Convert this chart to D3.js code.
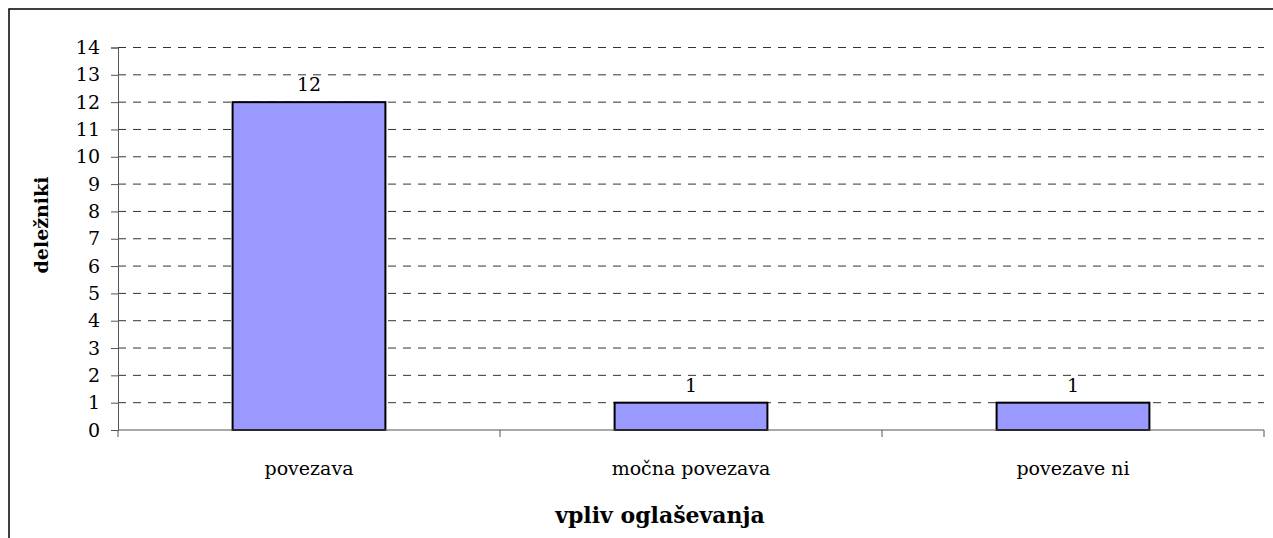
<!DOCTYPE html>
<html>
<head>
<meta charset="utf-8">
<script src="https://cdnjs.cloudflare.com/ajax/libs/d3/7.8.5/d3.min.js"></script>
<style>
  body { margin: 0; background: #fff; }
  text { font-family: "DejaVu Serif", serif; fill: #000; }
</style>
</head>
<body>
<main></main>
<script>
var categories = ["povezava", "močna povezava", "povezave ni"];
var values = [12, 1, 1];
var yTicks = [0, 1, 2, 3, 4, 5, 6, 7, 8, 9, 10, 11, 12, 13, 14];
var xTitle = "vpliv oglaševanja";
var yTitle = "deležniki";

var W = 1273, H = 538;
var margin = { top: 47.5, left: 118, right: 9, bottom: 108 };
var w = W - margin.left - margin.right;
var h = H - margin.top - margin.bottom;

var svg = d3.select("main")
            .append("svg")
            .attr("width", W)
            .attr("height", H);

// chart frame (runs off the right and bottom edge)
svg.append("rect")
   .attr("x", 9).attr("y", 9)
   .attr("width", W + 20).attr("height", H + 20)
   .attr("fill", "none")
   .attr("stroke", "#000")
   .attr("stroke-width", 1.5);

var g = svg.append("g")
           .attr("transform", "translate(" + margin.left + "," + margin.top + ")");

var x = d3.scaleBand()
          .domain(categories)
          .range([0, w])
          .paddingInner(0.6)
          .paddingOuter(0.3);

var y = d3.scaleLinear()
          .domain([0, 14])
          .range([h, 0]);

// gridlines
g.selectAll("line.grid")
 .data(yTicks.filter(function(d) { return d > 0; }))
 .enter()
 .append("line")
 .attr("class", "grid")
 .attr("x1", 0).attr("x2", w)
 .attr("y1", function(d) { return y(d); })
 .attr("y2", function(d) { return y(d); })
 .attr("stroke", "#333")
 .attr("stroke-width", 1)
 .attr("stroke-dasharray", "8,7");

// bars
g.selectAll("rect.bar")
 .data(values)
 .enter()
 .append("rect")
 .attr("class", "bar")
 .attr("x", function(d, i) { return x(categories[i]); })
 .attr("y", function(d) { return y(d); })
 .attr("width", x.bandwidth())
 .attr("height", function(d) { return h - y(d); })
 .attr("fill", "#9999ff")
 .attr("stroke", "#000")
 .attr("stroke-width", 2);

// value labels
g.selectAll("text.val")
 .data(values)
 .enter()
 .append("text")
 .attr("class", "val")
 .attr("x", function(d, i) { return x(categories[i]) + x.bandwidth() / 2; })
 .attr("y", function(d) { return y(d) - 11; })
 .attr("text-anchor", "middle")
 .style("font-size", "19px")
 .text(function(d) { return d; });

// y axis
var yAxis = g.append("g")
             .call(d3.axisLeft(y).tickValues(yTicks).tickSize(7).tickPadding(11));
yAxis.selectAll("text").style("font-size", "19px").attr("fill", "#000");
yAxis.select(".domain").attr("stroke", "#555");
yAxis.selectAll(".tick line").attr("stroke", "#555");

// x axis with category dividers
var xAxis = g.append("g").attr("transform", "translate(0," + h + ")");
xAxis.append("line")
     .attr("x1", 0).attr("x2", w)
     .attr("stroke", "#555");
var edges = d3.range(categories.length + 1).map(function(i) { return i * w / categories.length; });
xAxis.selectAll("line.div")
     .data(edges)
     .enter()
     .append("line")
     .attr("class", "div")
     .attr("x1", function(d) { return d; })
     .attr("x2", function(d) { return d; })
     .attr("y1", 0).attr("y2", 7)
     .attr("stroke", "#555");
xAxis.selectAll("text")
     .data(categories)
     .enter()
     .append("text")
     .attr("x", function(d) { return x(d) + x.bandwidth() / 2; })
     .attr("y", 45)
     .attr("text-anchor", "middle")
     .style("font-size", "19px")
     .text(function(d) { return d; });

// titles
svg.append("text")
   .attr("x", 660)
   .attr("y", 523)
   .attr("text-anchor", "middle")
   .style("font-size", "22px")
   .style("font-weight", "bold")
   .text(xTitle);

svg.append("text")
   .attr("transform", "translate(48,225) rotate(-90)")
   .attr("text-anchor", "middle")
   .style("font-size", "19px")
   .style("font-weight", "bold")
   .text(yTitle);
</script>
</body>
</html>
